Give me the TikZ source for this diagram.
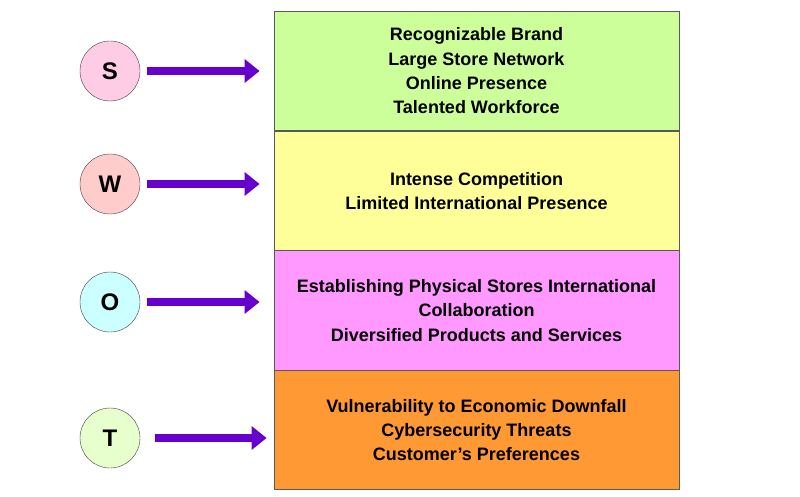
\documentclass[tikz,border=0pt]{standalone}
\usepackage{fontspec}
\setmainfont{Liberation Sans}
\usetikzlibrary{arrows.meta}

\definecolor{swotpurple}{RGB}{102,0,204}
\definecolor{sfill}{RGB}{255,204,230}
\definecolor{wfill}{RGB}{255,204,204}
\definecolor{ofill}{RGB}{204,255,255}
\definecolor{tfill}{RGB}{230,255,204}
\definecolor{sbg}{RGB}{204,255,153}
\definecolor{wbg}{RGB}{255,255,153}
\definecolor{obg}{RGB}{255,153,255}
\definecolor{tbg}{RGB}{255,153,51}

\begin{document}
\begin{tikzpicture}[x=1pt, y=-1pt,
   letter/.style={draw=black!75, circle, minimum size=60pt, inner sep=0pt,
                  font=\bfseries\fontsize{24}{24}\selectfont},
   box/.style={draw=black!65, line width=0.8pt, minimum width=405pt, minimum height=119.5pt,
               inner sep=0pt, align=center, font=\bfseries\fontsize{18}{24.3}\selectfont},
   pointer/.style={swotpurple, line width=8pt, -{Triangle[length=15pt,width=23pt]}}]

\useasboundingbox (0,0) rectangle (800,497);

% boxes
\node[box, fill=sbg] (sbox) at (476.5,71) {Recognizable Brand\\Large Store Network\\Online Presence\\Talented Workforce};
\node[box, fill=wbg] (wbox) at (476.5,191) {Intense Competition\\Limited International Presence};
\node[box, fill=obg] (obox) at (476.5,310.5) {Establishing Physical Stores International\\Collaboration\\Diversified Products and Services};
\node[box, fill=tbg] (tbox) at (476.5,430) {Vulnerability to Economic Downfall\\Cybersecurity Threats\\Customer's Preferences};

% letters
\node[letter, fill=sfill] (s) at (110,71) {S};
\node[letter, fill=wfill] (w) at (110,184) {W};
\node[letter, fill=ofill] (o) at (110,302) {O};
\node[letter, fill=tfill] (t) at (110,438) {T};

% arrows
\draw[pointer, shorten <=7pt, shorten >=14pt] (s.east) -- (s.east -| sbox.west);
\draw[pointer, shorten <=7pt, shorten >=14pt] (w.east) -- (w.east -| wbox.west);
\draw[pointer, shorten <=7pt, shorten >=14pt] (o.east) -- (o.east -| obox.west);
\draw[pointer, shorten <=15pt, shorten >=7pt] (t.east) -- (t.east -| tbox.west);

\end{tikzpicture}
\end{document}
